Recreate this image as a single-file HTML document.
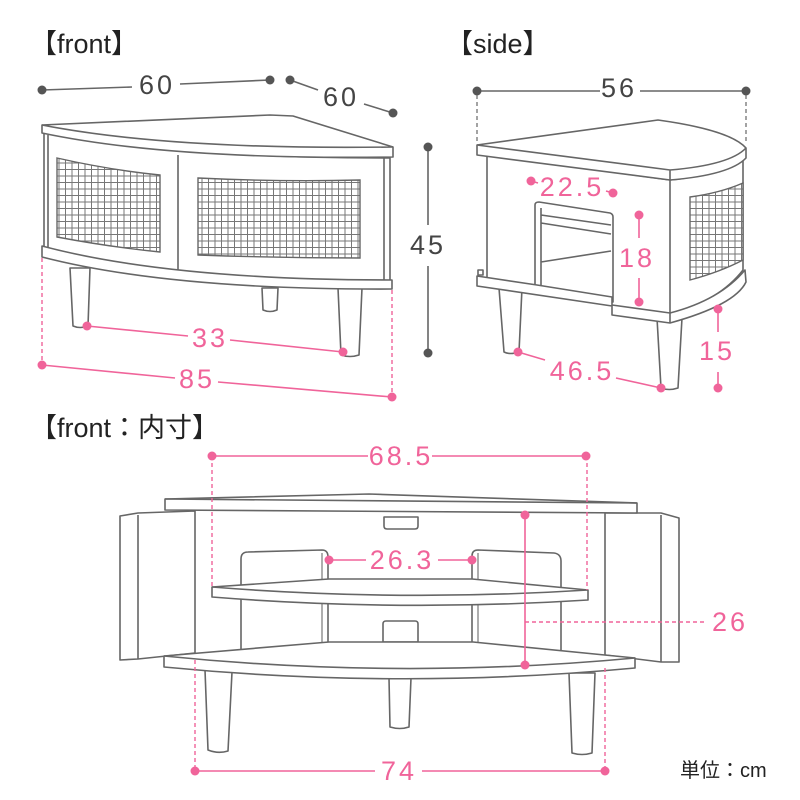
<!DOCTYPE html>
<html><head><meta charset="utf-8"><style>
html,body{margin:0;padding:0;background:#fff}
svg{display:block}
.l{fill:#fff;stroke:#666;stroke-width:1.6;stroke-linejoin:round}
.n{fill:none;stroke:#666;stroke-width:1.6}
.p{stroke:#f0649a;stroke-width:1.6;fill:none}
.pd{stroke:#f0649a;stroke-width:1.4;fill:none;stroke-dasharray:4 3}
.gd{stroke:#666;stroke-width:1.2;fill:none;stroke-dasharray:4 3}
.pt{fill:#f0649a;font-family:"Liberation Sans",sans-serif;font-size:27px;letter-spacing:3px;text-anchor:middle;dominant-baseline:central}
.gt{fill:#444;font-family:"Liberation Sans",sans-serif;font-size:27px;letter-spacing:3px;text-anchor:middle;dominant-baseline:central}
.tt{fill:#222;font-family:"Liberation Sans","Noto Sans CJK JP",sans-serif;font-size:27px}
.pc{fill:#f0649a}.gc{fill:#555}
</style></head><body>
<svg width="800" height="800" viewBox="0 0 800 800" xmlns="http://www.w3.org/2000/svg">
<defs>
<pattern id="grid" width="6.5" height="6.5" patternUnits="userSpaceOnUse">
<rect width="6.5" height="6.5" fill="#fff"/>
<path d="M0 0.5H6.5M0.5 0V6.5" stroke="#777" stroke-width="1"/>
</pattern>
</defs>

<!-- titles -->
<text class="tt" x="30" y="53">【front】</text>
<text class="tt" x="446" y="53">【side】</text>
<text class="tt" x="30" y="437">【front：内寸】</text>
<text class="tt" x="680" y="777" style="font-size:20px">単位：cm</text>

<!-- ============ FRONT VIEW ============ -->
<line x1="42" y1="90" x2="132" y2="87" class="n"/><line x1="180" y1="84" x2="270" y2="80" class="n"/>
<circle cx="42" cy="90" r="4.5" class="gc"/><circle cx="270" cy="80" r="4.5" class="gc"/>
<text class="gt" x="157" y="85">60</text>
<line x1="290" y1="80" x2="318" y2="90" class="n"/><line x1="364" y1="104" x2="393" y2="113" class="n"/>
<circle cx="290" cy="80" r="4.5" class="gc"/><circle cx="393" cy="113" r="4.5" class="gc"/>
<text class="gt" x="341" y="97">60</text>

<path class="l" d="M70 268 L90 268 L88 326 Q80 329 73 326 Z"/>
<path class="l" d="M262 288 L278 288 L277 310 Q270 313 263 310 Z"/>
<path class="l" d="M338 288 L362 288 L359 355 Q350 358 341 355 Z"/>
<path class="l" d="M44 133 Q170 158 390 158 L390 284 Q170 284 44 250 Z"/>
<line x1="48" y1="135" x2="48" y2="250" class="n"/>
<line x1="384" y1="158" x2="384" y2="282" class="n"/>
<line x1="178" y1="155" x2="178" y2="277" class="n"/>
<path class="l" d="M42 246 Q170 280 392 280 L392 289 Q170 290 42 257 Z"/>
<path class="l" d="M42 125 L270 115 L293 116 L393 147 L393 157 Q170 160 42 133 Z"/>
<path class="n" d="M42 125 Q170 150 393 147"/>
<path d="M57 158 Q110 170 160 175 L160 252 Q110 247 57 237 Z" fill="url(#grid)" stroke="#666" stroke-width="1.4"/>
<path d="M198 178 Q280 182 360 180 L360 258 Q280 258 198 255 Z" fill="url(#grid)" stroke="#666" stroke-width="1.4"/>

<line x1="42" y1="258" x2="42" y2="365" class="pd"/>
<line x1="392" y1="290" x2="392" y2="397" class="pd"/>
<line x1="87" y1="326" x2="188" y2="336" class="p"/><line x1="230" y1="340" x2="343" y2="352" class="p"/>
<circle cx="87" cy="326" r="4.5" class="pc"/><circle cx="343" cy="352" r="4.5" class="pc"/>
<text class="pt" x="210" y="338">33</text>
<line x1="42" y1="365" x2="175" y2="378" class="p"/><line x1="218" y1="382" x2="392" y2="397" class="p"/>
<circle cx="42" cy="365" r="4.5" class="pc"/><circle cx="392" cy="397" r="4.5" class="pc"/>
<text class="pt" x="197" y="379">85</text>
<line x1="428" y1="147" x2="428" y2="225" class="n"/><line x1="428" y1="266" x2="428" y2="353" class="n"/>
<circle cx="428" cy="147" r="4.5" class="gc"/><circle cx="428" cy="353" r="4.5" class="gc"/>
<text class="gt" x="428" y="245">45</text>

<!-- ============ SIDE VIEW ============ -->
<line x1="477" y1="91" x2="600" y2="91" class="n"/><line x1="640" y1="91" x2="746" y2="91" class="n"/>
<circle cx="477" cy="91" r="4.5" class="gc"/><circle cx="746" cy="91" r="4.5" class="gc"/>
<text class="gt" x="619" y="88">56</text>
<line x1="477" y1="95" x2="477" y2="142" class="gd"/>
<line x1="746" y1="95" x2="746" y2="142" class="gd"/>
<path class="l" d="M499 288 L522 288 L519 352 Q510 355 504 352 Z"/>
<path class="l" d="M657 318 L682 318 L678 388 Q669 391 661 388 Z"/>
<path class="l" d="M487 155 L670 180 Q720 175 743 160 L743 270 Q720 300 670 315 L487 285 Z"/>
<line x1="670" y1="180" x2="670" y2="315" class="n"/>
<path class="l" d="M535 205 Q535 202 539 202 L610 213 Q613 214 613 217 L613 302 L535 288 Z"/>
<path class="n" d="M541 208 L541 285 M541 215 L611 225 M541 223 L611 234 M541 262 L611 251"/>
<path d="M690 197 Q720 193 743 183 L743 260 Q720 272 690 280 Z" fill="url(#grid)" stroke="#666" stroke-width="1.4"/>
<path class="l" d="M477 276 L537 285 L612 297 L612 305 L670 313 Q720 300 745 270 L746 282 Q735 305 670 323 L612 315 L612 306 L477 286 Z"/>
<line x1="670" y1="313" x2="670" y2="323" class="n"/>
<rect x="478" y="270" width="5" height="5" class="l"/>
<path class="l" d="M477 145 L658 120 Q730 130 746 148 L746 158 Q730 175 670 180 L477 155 Z"/>
<path class="n" d="M477 145 L670 170 Q730 165 746 148 M670 170 L670 180"/>
<line x1="531" y1="181" x2="538" y2="183" class="p"/><line x1="606" y1="191" x2="613" y2="193" class="p"/>
<circle cx="531" cy="181" r="4.5" class="pc"/><circle cx="613" cy="193" r="4.5" class="pc"/>
<text class="pt" x="572" y="187">22.5</text>
<line x1="639" y1="215" x2="639" y2="238" class="p"/><line x1="639" y1="278" x2="639" y2="302" class="p"/>
<circle cx="639" cy="215" r="4.5" class="pc"/><circle cx="639" cy="302" r="4.5" class="pc"/>
<text class="pt" x="637" y="258">18</text>
<line x1="718" y1="309" x2="718" y2="332" class="p"/><line x1="718" y1="372" x2="718" y2="388" class="p"/>
<circle cx="718" cy="309" r="4.5" class="pc"/><circle cx="718" cy="388" r="4.5" class="pc"/>
<text class="pt" x="717" y="351">15</text>
<line x1="518" y1="352" x2="545" y2="360" class="p"/><line x1="616" y1="378" x2="661" y2="388" class="p"/>
<circle cx="518" cy="352" r="4.5" class="pc"/><circle cx="661" cy="388" r="4.5" class="pc"/>
<text class="pt" x="582" y="371">46.5</text>

<!-- ============ INNER VIEW ============ -->
<path class="l" d="M205 670 L232 672 L228 751 Q218 754 208 750 Z"/>
<path class="l" d="M389 678 L411 678 L409 727 Q400 730 390 727 Z"/>
<path class="l" d="M569 673 L595 673 L592 753 Q582 756 572 753 Z"/>
<!-- doors -->
<path class="l" d="M120 516 L138 513 L195 511 L195 653 L138 659 L120 660 Z"/>
<line x1="138" y1="515" x2="138" y2="659" class="n"/>
<path class="l" d="M605 513 L661 513 L679 518 L679 662 L661 662 L605 655 Z"/>
<line x1="661" y1="515" x2="661" y2="662" class="n"/>
<!-- back panels -->
<path class="l" d="M241 559 Q241 552 248 552 L322 550 Q328 550 328 557 L328 660 L241 660 Z"/>
<line x1="322" y1="553" x2="322" y2="660" class="n" style="stroke:#999"/>
<path class="l" d="M472 556 Q472 550 478 550 L554 553 Q561 554 561 561 L561 660 L472 660 Z"/>
<line x1="478" y1="553" x2="478" y2="660" class="n" style="stroke:#999"/>
<path class="l" d="M383 624 Q383 621 386 621 L415 621 Q418 621 418 624 L418 642 L383 642 Z"/>
<!-- middle shelf -->
<path class="l" d="M212 587 L329 579 L472 579 L588 590 L588 600 Q400 612 212 597 Z"/>
<path class="n" d="M212 587 Q400 602 588 590"/>
<!-- bottom shelf -->
<path class="l" d="M164 656 L329 642 L473 642 L635 658 L635 668 Q400 690 164 667 Z"/>
<path class="n" d="M164 656 Q400 680 635 658"/>
<!-- top slab -->
<path class="l" d="M165 499 L369 494 L637 503 L637 513 L165 510 Z"/>
<path class="n" d="M165 499 L637 503"/>
<path class="l" d="M384 517 L418 517 L418 526 Q418 529 415 529 L387 529 Q384 529 384 526 Z"/>

<!-- inner dims -->
<line x1="212" y1="456" x2="212" y2="588" class="pd"/>
<line x1="587" y1="456" x2="587" y2="590" class="pd"/>
<line x1="212" y1="456" x2="368" y2="456" class="p"/><line x1="432" y1="456" x2="586" y2="456" class="p"/>
<circle cx="212" cy="456" r="4.5" class="pc"/><circle cx="586" cy="456" r="4.5" class="pc"/>
<text class="pt" x="401" y="456">68.5</text>
<line x1="329" y1="560" x2="366" y2="560" class="p"/><line x1="438" y1="560" x2="472" y2="560" class="p"/>
<circle cx="329" cy="560" r="4.5" class="pc"/><circle cx="472" cy="560" r="4.5" class="pc"/>
<text class="pt" x="402" y="560">26.3</text>
<line x1="525" y1="515" x2="525" y2="665" class="p"/>
<circle cx="525" cy="515" r="4.5" class="pc"/><circle cx="525" cy="665" r="4.5" class="pc"/>
<line x1="525" y1="622" x2="705" y2="622" class="pd"/>
<text class="pt" x="730" y="622">26</text>
<line x1="195" y1="660" x2="195" y2="771" class="pd"/>
<line x1="605" y1="668" x2="605" y2="771" class="pd"/>
<line x1="195" y1="771" x2="375" y2="771" class="p"/><line x1="422" y1="771" x2="605" y2="771" class="p"/>
<circle cx="195" cy="771" r="4.5" class="pc"/><circle cx="605" cy="771" r="4.5" class="pc"/>
<text class="pt" x="399" y="771">74</text>
</svg>
</body></html>
